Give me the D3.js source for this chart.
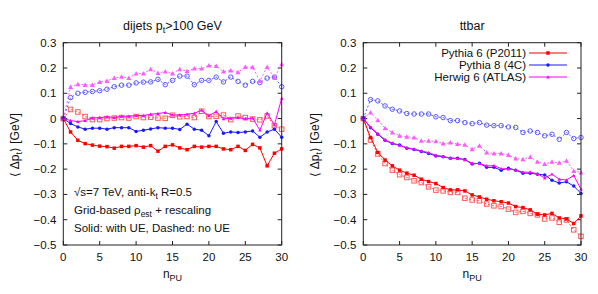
<!DOCTYPE html>
<html>
<head>
<meta charset="utf-8">
<script src="https://cdn.jsdelivr.net/npm/d3@7"></script>
<style>
  body { margin: 0; background: #fff; }
  svg text { font-family: "Liberation Sans", Arial, sans-serif; fill: #111; }
  .frame { fill: none; stroke: #222; stroke-width: 1; }
</style>
</head>
<body>
<div id="chart"></div>
<script>
const nPU = d3.range(0, 31);
const xTicks = [0, 5, 10, 15, 20, 25, 30];
const yTicks = [-0.5, -0.4, -0.3, -0.2, -0.1, 0, 0.1, 0.2, 0.3];
const generators = ["Pythia 6 (P2011)", "Pythia 8 (4C)", "Herwig 6 (ATLAS)"];

// dijets pt>100 GeV
const dijetsP6UE = [0, -0.053, -0.086, -0.099, -0.105, -0.109, -0.111, -0.117, -0.110, -0.110, -0.107, -0.113, -0.107, -0.129, -0.110, -0.104, -0.116, -0.123, -0.110, -0.113, -0.110, -0.110, -0.120, -0.123, -0.110, -0.126, -0.102, -0.116, -0.187, -0.137, -0.120];
const dijetsP8UE = [0, -0.020, -0.033, -0.042, -0.038, -0.038, -0.042, -0.036, -0.036, -0.036, -0.051, -0.046, -0.041, -0.036, -0.038, -0.038, -0.043, -0.022, -0.042, -0.046, -0.068, -0.012, -0.058, -0.053, -0.055, -0.053, -0.049, -0.074, -0.053, -0.042, -0.074];
const dijetsH6UE = [0, -0.008, -0.012, -0.008, 0.002, 0.004, 0.007, 0.004, 0.009, 0.009, 0.012, 0.012, 0.017, 0.020, 0.024, 0.014, 0.014, 0.017, 0.021, 0.033, 0.011, 0.028, -0.001, 0.001, 0.004, -0.001, 0.002, -0.046, 0.022, -0.025, 0.080];
const dijetsP6noUE = [0, 0.036, 0.026, 0.008, -0.004, -0.004, 0, 0.002, 0.004, 0.002, 0.008, 0.004, 0.005, 0.002, 0.001, 0.013, 0.007, 0.008, 0.004, 0.029, 0.008, 0.009, 0.014, -0.004, 0.010, 0.004, -0.002, -0.005, 0.010, -0.028, -0.042];
const dijetsP8noUE = [0, 0.083, 0.100, 0.104, 0.107, 0.110, 0.116, 0.126, 0.132, 0.132, 0.141, 0.144, 0.145, 0.155, 0.134, 0.151, 0.168, 0.168, 0.134, 0.151, 0.151, 0.164, 0.145, 0.164, 0.147, 0.132, 0.147, 0.142, 0.160, 0.164, 0.126];
const dijetsH6noUE = [0, 0.125, 0.136, 0.133, 0.133, 0.145, 0.149, 0.160, 0.165, 0.160, 0.178, 0.178, 0.195, 0.180, 0.186, 0.178, 0.195, 0.188, 0.198, 0.198, 0.210, 0.208, 0.186, 0.190, 0.183, 0.204, 0.203, 0.149, 0.204, 0.162, 0.215];

// ttbar
const ttbarP6UE = [0, -0.075, -0.134, -0.164, -0.187, -0.204, -0.216, -0.224, -0.240, -0.249, -0.257, -0.273, -0.282, -0.282, -0.286, -0.302, -0.310, -0.319, -0.325, -0.329, -0.334, -0.348, -0.352, -0.361, -0.378, -0.381, -0.375, -0.393, -0.397, -0.415, -0.385];
const ttbarP8UE = [0, -0.036, -0.062, -0.086, -0.099, -0.105, -0.117, -0.122, -0.130, -0.138, -0.148, -0.151, -0.157, -0.157, -0.162, -0.180, -0.177, -0.193, -0.193, -0.204, -0.196, -0.204, -0.216, -0.216, -0.220, -0.223, -0.244, -0.255, -0.250, -0.267, -0.296];
const ttbarH6UE = [0, -0.034, -0.060, -0.084, -0.097, -0.106, -0.115, -0.121, -0.128, -0.135, -0.145, -0.150, -0.156, -0.158, -0.163, -0.177, -0.178, -0.187, -0.186, -0.198, -0.200, -0.203, -0.212, -0.212, -0.218, -0.235, -0.220, -0.240, -0.243, -0.225, -0.280];
const ttbarP6noUE = [0, -0.085, -0.140, -0.178, -0.204, -0.222, -0.233, -0.246, -0.253, -0.270, -0.283, -0.286, -0.292, -0.292, -0.315, -0.322, -0.325, -0.338, -0.345, -0.348, -0.358, -0.371, -0.367, -0.375, -0.381, -0.397, -0.393, -0.410, -0.401, -0.440, -0.466];
const ttbarP8noUE = [0, 0.075, 0.070, 0.050, 0.037, 0.030, 0.020, 0.018, 0.018, 0.018, 0.007, 0.004, -0.008, -0.008, -0.016, -0.020, -0.016, -0.026, -0.028, -0.028, -0.033, -0.035, -0.055, -0.049, -0.055, -0.068, -0.062, -0.082, -0.055, -0.079, -0.075];
const ttbarH6noUE = [0, 0.024, -0.007, -0.038, -0.055, -0.068, -0.072, -0.075, -0.088, -0.088, -0.090, -0.099, -0.095, -0.101, -0.104, -0.121, -0.108, -0.134, -0.138, -0.138, -0.144, -0.158, -0.161, -0.152, -0.171, -0.180, -0.171, -0.175, -0.167, -0.207, -0.213];

const W = 598, H = 294;
const svg = d3.select("#chart").append("svg").attr("width", W).attr("height", H);

const styles = [
  { color: "#ff0000", light: "#ff5a5a", shape: "square" },
  { color: "#1a1aff", light: "#5a5aff", shape: "circle" },
  { color: "#ff00ff", light: "#ff5aff", shape: "triangle" }
];

function marker(g, shape, x, y, color, open, size) {
  if (shape === "square") {
    g.append("rect").attr("x", x - size / 2).attr("y", y - size / 2).attr("width", size).attr("height", size)
      .attr("fill", open ? "none" : color).attr("stroke", color).attr("stroke-width", open ? 1 : 0);
  } else if (shape === "circle") {
    g.append("circle").attr("cx", x).attr("cy", y).attr("r", size / 2)
      .attr("fill", open ? "none" : color).attr("stroke", color).attr("stroke-width", open ? 1 : 0);
  } else {
    const s = size / 2;
    g.append("path").attr("d", `M${x},${y - s}L${x + s},${y + s * 0.8}L${x - s},${y + s * 0.8}Z`)
      .attr("fill", color);
  }
}

function panel(x0, x1, title, withUE, noUE, yLabelX) {
  const x = d3.scaleLinear().domain([0, 30]).range([x0, x1]);
  const y = d3.scaleLinear().domain([-0.5, 0.3]).range([245, 42.7]);
  const g = svg.append("g");

  // ticks, inward on all four sides
  xTicks.forEach(t => {
    g.append("line").attr("x1", x(t)).attr("x2", x(t)).attr("y1", y(-0.5)).attr("y2", y(-0.5) - 4).attr("stroke", "#222");
    g.append("line").attr("x1", x(t)).attr("x2", x(t)).attr("y1", y(0.3)).attr("y2", y(0.3) + 4).attr("stroke", "#222");
    g.append("text").attr("x", x(t)).attr("y", y(-0.5) + 16).attr("text-anchor", "middle").attr("font-size", 11.5).text(t);
  });
  yTicks.forEach(t => {
    g.append("line").attr("x1", x0).attr("x2", x0 + 4).attr("y1", y(t)).attr("y2", y(t)).attr("stroke", "#222");
    g.append("line").attr("x1", x1).attr("x2", x1 - 4).attr("y1", y(t)).attr("y2", y(t)).attr("stroke", "#222");
    g.append("text").attr("x", x0 - 7).attr("y", y(t) + 4).attr("text-anchor", "end").attr("font-size", 11.5)
      .text(t === 0 ? "0" : d3.format(".1f")(t));
  });

  const line = d3.line().x((d, i) => x(nPU[i])).y(d => y(d));

  // dashed: no UE
  noUE.forEach((vals, k) => {
    const st = styles[k];
    g.append("path").datum(vals).attr("d", line).attr("fill", "none")
      .attr("stroke", st.light).attr("stroke-width", 1).attr("stroke-dasharray", "2,2");
    vals.forEach((v, i) => marker(g, st.shape, x(nPU[i]), y(v), st.light, st.shape !== "triangle", st.shape === "triangle" ? 5 : 4.5));
  });
  // solid: with UE
  withUE.forEach((vals, k) => {
    const st = styles[k];
    g.append("path").datum(vals).attr("d", line).attr("fill", "none")
      .attr("stroke", st.color).attr("stroke-width", 1);
    vals.forEach((v, i) => marker(g, st.shape, x(nPU[i]), y(v), st.color, false, 3.5));
  });

  g.append("rect").attr("class", "frame").attr("x", x0).attr("y", y(0.3)).attr("width", x1 - x0).attr("height", y(-0.5) - y(0.3));

  // titles and axis labels
  const tt = g.append("text").attr("x", (x0 + x1) / 2).attr("y", 30).attr("text-anchor", "middle").attr("font-size", 12.5);
  tt.append("tspan").text(title[0]);
  if (title[1]) {
    tt.append("tspan").attr("font-size", 9).attr("dy", 3).text(title[1]);
    tt.append("tspan").attr("dy", -3).text(title[2]);
  }
  const xl = g.append("text").attr("x", (x0 + x1) / 2).attr("y", 278).attr("text-anchor", "middle").attr("font-size", 12);
  xl.append("tspan").text("n");
  xl.append("tspan").attr("font-size", 9).attr("dy", 3).text("PU");

  const yl = g.append("text").attr("transform", `translate(${yLabelX},145) rotate(-90)`).attr("text-anchor", "middle").attr("font-size", 12);
  yl.append("tspan").text("\u27e8 \u0394p");
  yl.append("tspan").attr("font-size", 9).attr("dy", 3).text("t");
  yl.append("tspan").attr("dy", -3).text("\u27e9 [GeV]");
  return g;
}

const left = panel(63.3, 281.7, ["dijets p", "t", ">100 GeV"],
  [dijetsP6UE, dijetsP8UE, dijetsH6UE], [dijetsP6noUE, dijetsP8noUE, dijetsH6noUE], 19);
const right = panel(363.3, 581, ["ttbar"],
  [ttbarP6UE, ttbarP8UE, ttbarH6UE], [ttbarP6noUE, ttbarP8noUE, ttbarH6noUE], 319);

// annotations in left panel
const a1 = left.append("text").attr("x", 74).attr("y", 196).attr("font-size", 11.5);
a1.append("tspan").text("\u221as=7 TeV, anti-k");
a1.append("tspan").attr("font-size", 8.5).attr("dy", 3).text("t");
a1.append("tspan").attr("dy", -3).text(" R=0.5");
const a2 = left.append("text").attr("x", 74).attr("y", 214).attr("font-size", 11.5);
a2.append("tspan").text("Grid-based \u03c1");
a2.append("tspan").attr("font-size", 8.5).attr("dy", 3).text("est");
a2.append("tspan").attr("dy", -3).text(" + rescaling");
left.append("text").attr("x", 74).attr("y", 232).attr("font-size", 11.5).text("Solid: with UE, Dashed: no UE");

// legend in right panel
generators.forEach((name, k) => {
  const ly = 53 + k * 12;
  right.append("text").attr("x", 526).attr("y", ly + 4).attr("text-anchor", "end").attr("font-size", 11.5).text(name);
  right.append("line").attr("x1", 529).attr("x2", 567).attr("y1", ly).attr("y2", ly)
    .attr("stroke", styles[k].color).attr("stroke-width", 1.2);
  marker(right, styles[k].shape, 548, ly, styles[k].color, false, 3.5);
});
</script>
</body>
</html>
